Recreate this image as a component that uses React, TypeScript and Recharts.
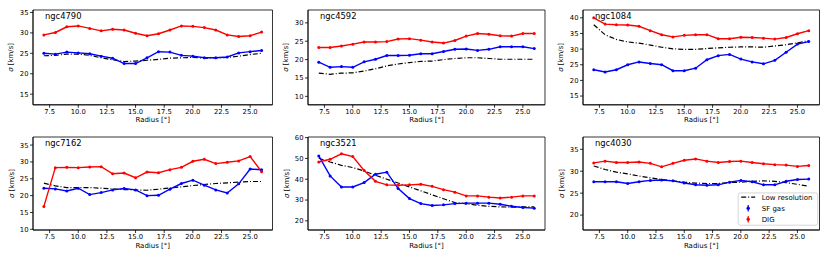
import { LineChart, Line, XAxis, YAxis, ReferenceArea } from "recharts"

const FONT = "DejaVu Sans"

const radius = [7, 8, 9, 10, 11, 12, 13, 14, 15, 16, 17, 18, 19, 20, 21, 22, 23, 24, 25, 26]
const xTicks = [7.5, 10, 12.5, 15, 17.5, 20, 22.5, 25]

// sigma values in km/s, one per radius bin
const ngc4790Dig = [29.5, 30.1, 31.5, 31.7, 31.1, 30.5, 30.9, 30.7, 29.9, 29.3, 29.8, 30.7, 31.7, 31.6, 31.3, 30.7, 29.5, 29.1, 29.3, 30.2]
const ngc4790Sf = [25.0, 24.8, 25.3, 25.1, 24.9, 24.3, 23.8, 22.5, 22.5, 23.9, 25.4, 25.3, 24.5, 24.3, 23.9, 23.9, 24.1, 25.1, 25.4, 25.7]
const ngc4790Low = [24.4, 24.5, 24.8, 24.8, 24.5, 23.9, 23.4, 23.0, 23.1, 23.3, 23.5, 23.8, 23.9, 24.0, 23.8, 23.9, 24.0, 24.3, 24.7, 25.0]

const ngc4592Dig = [23.3, 23.3, 23.7, 24.2, 24.8, 24.8, 24.9, 25.6, 25.7, 25.3, 24.8, 24.5, 25.2, 26.4, 27.1, 26.9, 26.5, 26.4, 27.1, 27.1]
const ngc4592Sf = [19.3, 17.9, 18.1, 17.9, 19.4, 20.1, 21.1, 21.1, 21.2, 21.6, 21.6, 22.2, 22.8, 22.9, 22.5, 22.8, 23.5, 23.5, 23.5, 23.0]
const ngc4592Low = [16.3, 16.0, 16.3, 16.4, 16.9, 17.5, 18.3, 18.8, 19.2, 19.5, 19.6, 20.0, 20.3, 20.5, 20.5, 20.3, 20.1, 20.1, 20.1, 20.1]

const ngc1084Dig = [40.0, 38.0, 37.8, 37.7, 37.3, 35.9, 34.6, 33.9, 34.4, 34.6, 34.6, 33.3, 33.3, 33.8, 33.7, 33.5, 33.2, 33.7, 34.9, 35.9]
const ngc1084Sf = [23.4, 22.7, 23.4, 25.0, 25.9, 25.4, 25.0, 23.1, 23.1, 23.9, 26.6, 27.9, 28.3, 26.8, 25.9, 25.3, 26.4, 29.0, 31.6, 32.4]
const ngc1084Low = [37.8, 34.6, 33.1, 32.3, 31.9, 31.3, 30.6, 30.1, 29.9, 29.9, 30.2, 30.4, 30.6, 30.7, 30.7, 30.6, 31.0, 31.4, 32.0, 32.7]

const ngc7162Dig = [16.8, 28.3, 28.4, 28.3, 28.5, 28.6, 26.5, 26.7, 25.3, 27.0, 26.8, 27.7, 28.4, 30.2, 30.8, 29.5, 29.9, 30.3, 31.6, 27.1]
const ngc7162Sf = [22.2, 22.0, 21.4, 22.2, 20.3, 20.9, 21.7, 22.1, 21.7, 20.0, 20.1, 21.9, 23.6, 24.6, 23.1, 21.7, 20.8, 23.5, 27.9, 27.7]
const ngc7162Low = [23.7, 22.9, 22.4, 22.4, 22.4, 22.2, 22.0, 21.8, 21.7, 21.6, 21.9, 22.3, 22.6, 23.0, 23.3, 23.6, 23.8, 24.0, 24.2, 24.2]

const ngc3521Dig = [48.3, 49.6, 52.2, 50.9, 44.2, 39.0, 37.3, 37.1, 37.3, 37.6, 36.6, 35.0, 33.8, 32.0, 32.0, 31.4, 31.0, 31.4, 32.0, 32.0]
const ngc3521Sf = [51.2, 41.6, 36.3, 36.3, 38.4, 42.4, 43.4, 35.5, 30.7, 28.3, 27.4, 27.7, 28.3, 28.5, 28.5, 28.5, 28.0, 27.0, 26.4, 26.1]
const ngc3521Low = [50.1, 48.3, 46.7, 45.6, 44.0, 41.9, 40.0, 38.2, 36.3, 34.4, 32.5, 30.6, 28.8, 28.2, 27.5, 27.0, 26.7, 26.6, 26.7, 26.7]

const ngc4030Dig = [31.9, 32.3, 32.0, 32.0, 32.1, 31.8, 31.0, 31.8, 32.5, 32.8, 32.3, 32.0, 32.2, 32.3, 32.0, 31.7, 31.5, 31.4, 31.1, 31.3]
const ngc4030Sf = [27.6, 27.6, 27.6, 27.2, 27.6, 27.9, 28.0, 27.8, 27.3, 26.9, 26.8, 26.9, 27.5, 27.9, 27.6, 26.9, 26.9, 27.7, 28.1, 28.2]
const ngc4030Low = [31.2, 30.4, 29.8, 29.4, 28.9, 28.5, 28.1, 27.8, 27.5, 27.3, 27.2, 27.2, 27.4, 27.5, 27.7, 27.8, 27.7, 27.4, 27.0, 26.6]

const galaxies = ["ngc4790", "ngc4592", "ngc1084", "ngc7162", "ngc3521", "ngc4030"]
const digSeries = [ngc4790Dig, ngc4592Dig, ngc1084Dig, ngc7162Dig, ngc3521Dig, ngc4030Dig]
const sfSeries = [ngc4790Sf, ngc4592Sf, ngc1084Sf, ngc7162Sf, ngc3521Sf, ngc4030Sf]
const lowSeries = [ngc4790Low, ngc4592Low, ngc1084Low, ngc7162Low, ngc3521Low, ngc4030Low]
const yDomains = [[12.4, 35.6], [7.7, 33.5], [12.2, 42.5], [9.8, 37.4], [15.6, 60.3], [16.6, 37.8]]
const yTicks = [
  [15, 20, 25, 30, 35],
  [10, 15, 20, 25, 30],
  [15, 20, 25, 30, 35, 40],
  [10, 15, 20, 25, 30, 35],
  [20, 30, 40, 50, 60],
  [20, 25, 30, 35],
]

const legendNames = ["Low resolution", "SF gas", "DIG"]
const legendColors = ["#000", "#0000ff", "#ff0000"]

// layout of the 2x3 grid (plot area, px)
const colLeft = [33, 307.5, 583]
const colWidth = [239.5, 237, 236.5]
const rowTop = [9.5, 137.3]
const rowHeight = [94.8, 93]
const YW = 33
const XH = 24
const MT = 6
const MR = 4

const xDomain = [6.05, 26.95]
const axisStroke = { stroke: "#000", strokeWidth: 0.8 }
const tickStyle = { fontSize: 6.8, fill: "#000", fontFamily: FONT }

function XTitle({ viewBox }: any) {
  if (!viewBox) return null
  return (
    <text x={viewBox.x + viewBox.width / 2} y={viewBox.y + 17.5} textAnchor="middle" fontSize={7} fontFamily={FONT} fill="#000">
      Radius [°]
    </text>
  )
}

function YTitle({ viewBox }: any) {
  if (!viewBox) return null
  const x = viewBox.x + viewBox.width - 21.5
  const y = viewBox.y + viewBox.height / 2
  return (
    <text x={x} y={y} transform={`rotate(-90 ${x} ${y})`} textAnchor="middle" dominantBaseline="central" fontSize={7} fontFamily={FONT} fill="#000">
      <tspan fontStyle="italic">σ</tspan> [km/s]
    </text>
  )
}

function LegendBox({ x, y }: { x: number; y: number }) {
  return (
    <g transform={`translate(${x} ${y})`}>
      <rect x={0.5} y={0.5} width={79.5} height={32.3} rx={2} fill="#fff" fillOpacity={0.8} stroke="#cccccc" strokeWidth={0.8} />
      {legendNames.map((name, i) => {
        const base = 7.2 + i * 11
        const cy = base - 2.4
        return (
          <g key={name}>
            {i === 0 ? (
              <line x1={3.5} x2={17.5} y1={cy} y2={cy} stroke="#000" strokeWidth={1.2} strokeDasharray="5 2 1 2" />
            ) : (
              <g>
                <line x1={10.5} x2={10.5} y1={cy - 3.2} y2={cy + 3.2} stroke={legendColors[i]} strokeWidth={1.2} />
                <circle cx={10.5} cy={cy} r={1.7} fill={legendColors[i]} />
              </g>
            )}
            <text x={24} y={base} fontSize={7} fontFamily={FONT} fill="#000">
              {name}
            </text>
          </g>
        )
      })}
    </g>
  )
}

function Panel({ idx }: { idx: number }) {
  const col = idx % 3
  const row = Math.floor(idx / 3)
  const plotW = colWidth[col]
  const plotH = rowHeight[row]
  const width = YW + plotW + MR
  const height = MT + plotH + XH
  const data = radius.map((r, i) => ({ r, dig: digSeries[idx][i], sf: sfSeries[idx][i], low: lowSeries[idx][i] }))
  const domain = yDomains[idx]

  return (
    <div style={{ position: "absolute", left: colLeft[col] - YW, top: rowTop[row] - MT }}>
      <LineChart width={width} height={height} data={data} margin={{ top: MT, right: MR, left: 0, bottom: 0 }}>
        <XAxis
          dataKey="r"
          type="number"
          domain={xDomain}
          ticks={xTicks}
          tickFormatter={(v) => v.toFixed(1)}
          allowDataOverflow
          height={XH}
          tickSize={3}
          tickMargin={1.5}
          tick={tickStyle}
          tickLine={axisStroke}
          axisLine={axisStroke}
          label={<XTitle />}
        />
        <YAxis
          type="number"
          domain={domain}
          ticks={yTicks[idx]}
          allowDataOverflow
          width={YW}
          tickSize={3}
          tickMargin={1.5}
          tick={tickStyle}
          tickLine={axisStroke}
          axisLine={axisStroke}
          label={<YTitle />}
        />
        {/* axes frame */}
        <ReferenceArea x1={xDomain[0]} x2={xDomain[1]} y1={domain[0]} y2={domain[1]} ifOverflow="visible" fill="none" stroke="#000" strokeWidth={0.8} />
        <Line dataKey="low" name="Low resolution" stroke="#000" strokeWidth={1.2} strokeDasharray="5 2 1 2" dot={false} isAnimationActive={false} />
        <Line dataKey="sf" name="SF gas" stroke="#0000ff" strokeWidth={1.4} dot={{ r: 1.5, fill: "#0000ff", stroke: "none" }} isAnimationActive={false} />
        <Line dataKey="dig" name="DIG" stroke="#ff0000" strokeWidth={1.4} dot={{ r: 1.5, fill: "#ff0000", stroke: "none" }} isAnimationActive={false} />
        <text x={YW + 12} y={MT + 8.8} fontSize={8.4} fontFamily={FONT} fill="#000">
          {galaxies[idx]}
        </text>
        {idx === 5 && <LegendBox x={YW + 154.7} y={MT + 55.4} />}
      </LineChart>
    </div>
  )
}

export default function App() {
  return (
    <div style={{ position: "absolute", left: 0, top: 0, width: 830, height: 260, background: "#fff" }}>
      {galaxies.map((g, i) => (
        <Panel key={g} idx={i} />
      ))}
    </div>
  )
}
